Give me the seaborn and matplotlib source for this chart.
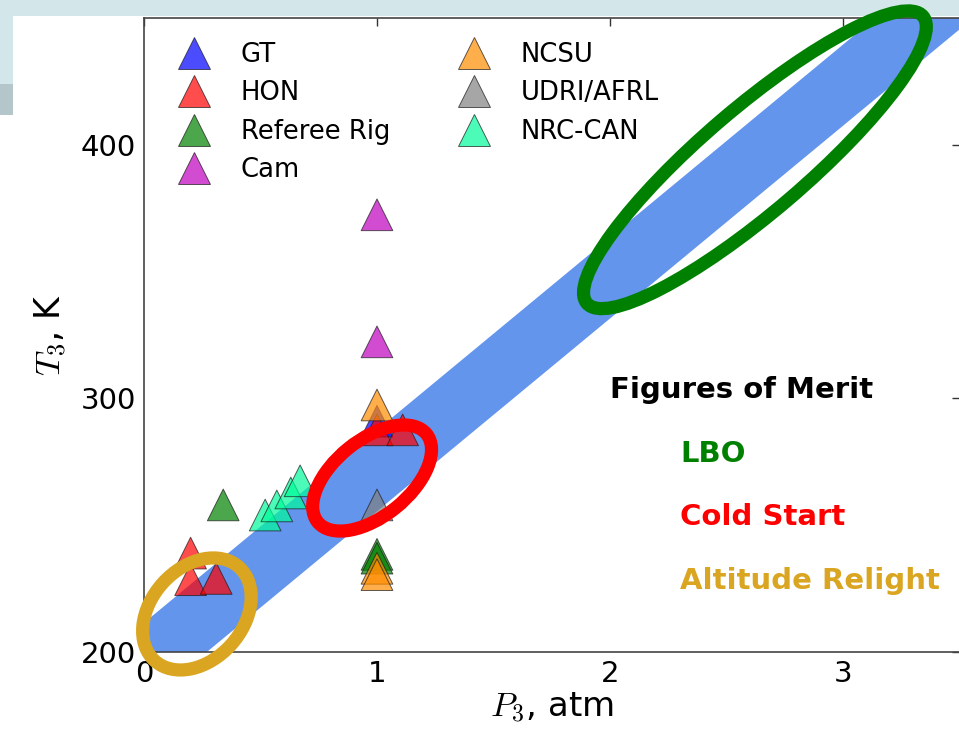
import numpy as np
import pandas as pd
import matplotlib
matplotlib.use("Agg")
import matplotlib.pyplot as plt
import matplotlib.transforms as mtransforms
from matplotlib.patches import Ellipse, Rectangle
from matplotlib.lines import Line2D
import seaborn as sns

# Ignition test points by laboratory: inlet pressure P3 (atm) and temperature T3 (K)
labs = ["GT", "HON", "Referee Rig", "Cam", "NCSU", "UDRI/AFRL", "NRC-CAN"]
lab_colors = ["#0000ff", "#ff0000", "#008000", "#bf00bf", "#ff8c00", "#808080", "#00fa9a"]

gt_p3 = [1.0]
gt_t3 = [291.0]
hon_p3 = [0.20, 0.20, 0.31, 1.0, 1.11]
hon_t3 = [239.0, 228.5, 229.0, 287.6, 287.6]
referee_p3 = [0.34, 1.0, 1.0]
referee_t3 = [258.0, 238.5, 237.0]
cam_p3 = [1.0, 1.0]
cam_t3 = [372.4, 322.3]
ncsu_p3 = [1.0, 1.0, 1.0]
ncsu_t3 = [297.4, 233.0, 230.5]
udri_p3 = [1.0]
udri_t3 = [258.0]
nrc_p3 = [0.52, 0.57, 0.63, 0.67]
nrc_t3 = [254.0, 257.6, 262.7, 267.5]

# Operating envelope band (lower and upper T3 bounds over P3)
band_p3 = [0.0, 3.5]
band_t3_low = [179.5, 445.5]
band_t3_high = [211.5, 477.5]

# Figure-of-merit regions: centre (P3, T3), semi-axes (px), tilt (deg)
fom_names = ["LBO", "Cold Start", "Altitude Relight"]
fom_colors = ["green", "red", "goldenrod"]
fom_centers = [(2.622, 394.1), (0.979, 268.6), (0.227, 215.0)]
fom_semi_axes = [(221, 52), (70, 38), (63, 46)]
fom_angles = [40.5, 39.0, 48.0]

groups = [
    (gt_p3, gt_t3), (hon_p3, hon_t3), (referee_p3, referee_t3), (cam_p3, cam_t3),
    (ncsu_p3, ncsu_t3), (udri_p3, udri_t3), (nrc_p3, nrc_t3),
]
rows = []
for lab, (ps, ts) in zip(labs, groups):
    for p, t in zip(ps, ts):
        rows.append({"lab": lab, "P3": p, "T3": t})
df = pd.DataFrame(rows)

sns.set_theme(style="white")
plt.rcParams["font.family"] = ["DejaVu Sans"]
plt.rcParams["mathtext.fontset"] = "cm"
plt.rcParams["text.color"] = "black"
plt.rcParams["axes.labelcolor"] = "black"
plt.rcParams["xtick.color"] = "black"
plt.rcParams["ytick.color"] = "black"

W, H, DPI = 959, 730, 100
fig = plt.figure(figsize=(W / DPI, H / DPI), dpi=DPI)
fig.patch.set_facecolor("white")

# slide decoration behind the chart
fig.add_artist(Rectangle((0, 1 - 16 / H), 1, 16 / H, transform=fig.transFigure,
                         facecolor="#d3e7eb", edgecolor="none", zorder=-5))
fig.add_artist(Rectangle((0, 1 - 84 / H), 13 / W, 68 / H, transform=fig.transFigure,
                         facecolor="#d3e7eb", edgecolor="none", zorder=-5))
fig.add_artist(Rectangle((0, 1 - 115 / H), 13 / W, 31 / H, transform=fig.transFigure,
                         facecolor="#b5c6ca", edgecolor="none", zorder=-5))

ax = fig.add_axes([144 / W, 78 / H, 815.5 / W, 634 / H])
ax.set_facecolor("white")

ax.fill_between(band_p3, band_t3_low, band_t3_high, color="cornflowerblue",
                linewidth=0, zorder=1)

palette = dict(zip(labs, lab_colors))
sns.scatterplot(data=df, x="P3", y="T3", hue="lab", palette=palette, marker="^",
                s=520, alpha=0.7, edgecolor="k", linewidth=0.7, legend=False,
                ax=ax, zorder=3)

for (cx, cy), (a, b), ang, col in zip(fom_centers, fom_semi_axes, fom_angles, fom_colors):
    tr = fig.dpi_scale_trans + mtransforms.ScaledTranslation(cx, cy, ax.transData)
    ax.add_patch(Ellipse((0, 0), 2 * a / DPI, 2 * b / DPI, angle=ang, transform=tr,
                         fill=False, edgecolor=col, linewidth=9.5, clip_on=False,
                         zorder=4))

ax.set_xlim(0, 3.5)
ax.set_ylim(200, 450)
ax.set_xticks([0, 1, 2, 3])
ax.set_yticks([200, 300, 400])
ax.tick_params(direction="in", top=True, right=True, length=6, width=1,
               labelsize=21, pad=6, colors="#333333", labelcolor="black")
for sp in ax.spines.values():
    sp.set_visible(True)
    sp.set_color("#444444")
    sp.set_linewidth(1.2)

ax.set_xlabel("$P_3$, atm", fontsize=24.5, labelpad=2)
ax.set_ylabel("$T_3$, K", fontsize=25, labelpad=8)

handles = [Line2D([], [], marker="^", linestyle="", markersize=22.5,
                  markerfacecolor=c, markeredgecolor="k", markeredgewidth=0.7,
                  alpha=0.7, label=l) for l, c in zip(labs, lab_colors)]
ax.legend(handles=handles, loc="upper left", bbox_to_anchor=(0.03, 0.962),
          ncol=2, frameon=False, fontsize=18.6, labelspacing=0.48,
          handlelength=2.0, handletextpad=0.8, columnspacing=2.25,
          borderaxespad=0, borderpad=0)

ax.text(2.0, 300, "Figures of Merit", fontsize=21, fontweight="bold",
        color="black", ha="left", va="baseline", zorder=5)
for i, (name, col) in enumerate(zip(fom_names, fom_colors)):
    ax.text(2.3, 275 - 25 * i, name, fontsize=21, fontweight="bold",
            color=col, ha="left", va="baseline", zorder=5)

fig.savefig("out.png", dpi=DPI)
